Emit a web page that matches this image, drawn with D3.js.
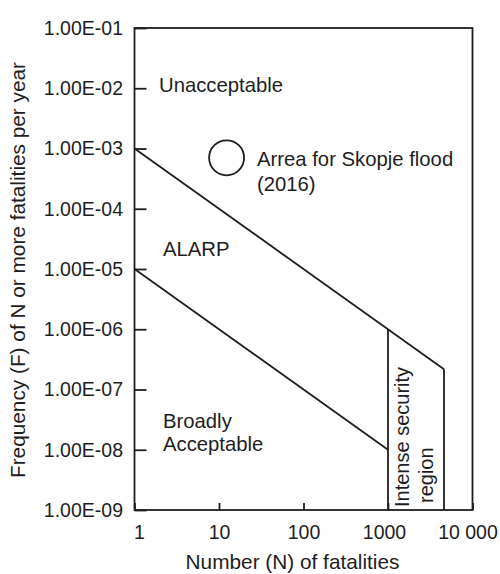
<!DOCTYPE html>
<html>
<head>
<meta charset="utf-8">
<script src="https://cdn.jsdelivr.net/npm/d3@7"></script>
<style>
  html, body { margin: 0; padding: 0; background: #fff; }
  svg { display: block; font-family: "Liberation Sans", Arial, sans-serif; }
  text { fill: #1e1e1e; }
</style>
</head>
<body>
<svg id="chart" width="500" height="574"></svg>
<script>
// Axis ticks and labels
const xTicks = [1, 10, 100, 1000, 10000];
const xTickLabels = ["1", "10", "100", "1000", "10 000"];
const yTicks = [1e-1, 1e-2, 1e-3, 1e-4, 1e-5, 1e-6, 1e-7, 1e-8, 1e-9];
const yTickLabels = ["1.00E-01", "1.00E-02", "1.00E-03", "1.00E-04", "1.00E-05",
                     "1.00E-06", "1.00E-07", "1.00E-08", "1.00E-09"];

// F-N criterion lines: [N, F]
const upperLimit = [[1, 1e-3], [4600, 2.17e-7]];
const lowerLimit = [[1, 1e-5], [1000, 1e-8]];
// Boundaries of the intense security region
const securityLeft = [[1000, 1e-6], [1000, 1e-9]];
const securityRight = [[4600, 2.17e-7], [4600, 1e-9]];
// Skopje flood 2016 point
const skopje = [{ n: 12.3, f: 7e-4 }];

const svg = d3.select("#chart");
const plotL = 134.5, plotR = 472.5, plotT = 28, plotB = 510;
const ink = "#1e1e1e";
const sw = 1.8;
const tickFont = 19.5, textFont = 20.3;

const x = d3.scaleLog().domain([1, 1e4]).range([plotL, plotR]);
const y = d3.scaleLog().domain([1e-9, 1e-1]).range([plotB, plotT]);

// Plot frame
svg.append("rect")
  .attr("x", plotL).attr("y", plotT)
  .attr("width", plotR - plotL).attr("height", plotB - plotT)
  .attr("fill", "none").attr("stroke", ink).attr("stroke-width", sw);

// Y axis (ticks pointing inward)
const yAxis = d3.axisLeft(y)
  .tickValues(yTicks)
  .tickFormat((d, i) => yTickLabels[i])
  .tickSizeInner(-12).tickSizeOuter(0).tickPadding(11.5);
const gy = svg.append("g").attr("transform", `translate(${plotL},0)`).call(yAxis);
gy.select(".domain").remove();
gy.selectAll("line").attr("stroke", ink).attr("stroke-width", sw);
gy.selectAll("text").attr("font-size", tickFont).attr("font-family", "Liberation Sans, Arial, sans-serif").attr("fill", ink);

// X axis (ticks pointing inward); end labels nudged to stay inside the page
const xAxis = d3.axisBottom(x)
  .tickValues(xTicks)
  .tickFormat((d, i) => xTickLabels[i])
  .tickSizeInner(-7).tickSizeOuter(0).tickPadding(15);
const gx = svg.append("g").attr("transform", `translate(0,${plotB})`).call(xAxis);
gx.select(".domain").remove();
gx.selectAll("line").attr("stroke", ink).attr("stroke-width", sw);
const xNudge = { 1: 4.5, 1000: -4, 10000: -5 };
gx.selectAll("text")
  .attr("font-size", tickFont).attr("font-family", "Liberation Sans, Arial, sans-serif").attr("fill", ink)
  .attr("dx", d => xNudge[d] || 0);

// Criterion lines and region boundaries
const line = d3.line().x(d => x(d[0])).y(d => y(d[1]));
[upperLimit, lowerLimit, securityLeft, securityRight].forEach(pts => {
  svg.append("path")
    .attr("d", line(pts))
    .attr("fill", "none").attr("stroke", ink).attr("stroke-width", sw);
});

// Skopje marker
svg.selectAll("circle.pt").data(skopje).join("circle")
  .attr("class", "pt")
  .attr("cx", d => x(d.n)).attr("cy", d => y(d.f))
  .attr("r", 17.5)
  .attr("fill", "none").attr("stroke", ink).attr("stroke-width", sw);

// Region annotations
function label(txt, px, py, opts = {}) {
  const t = svg.append("text")
    .attr("x", px).attr("y", py)
    .attr("font-size", opts.size || textFont)
    .attr("text-anchor", opts.anchor || "start")
    .text(txt);
  if (opts.rotate) t.attr("transform", `rotate(-90,${px},${py})`);
  return t;
}
label("Unacceptable", 159, 92);
label("Arrea for Skopje flood", 257, 166);
label("(2016)", 257, 191);
label("ALARP", 163, 256);
label("Broadly", 163, 428);
label("Acceptable", 163, 451);
label("Intense security", 409, 507, { rotate: true, size: 20 });
label("region", 433, 503, { rotate: true, size: 20 });

// Axis titles
label("Number (N) of fatalities", 292.5, 569, { anchor: "middle", size: 20.8 });
label("Frequency (F) of N or more fatalities per year", 25, 270, { anchor: "middle", rotate: true, size: 20.8 });
</script>
</body>
</html>
